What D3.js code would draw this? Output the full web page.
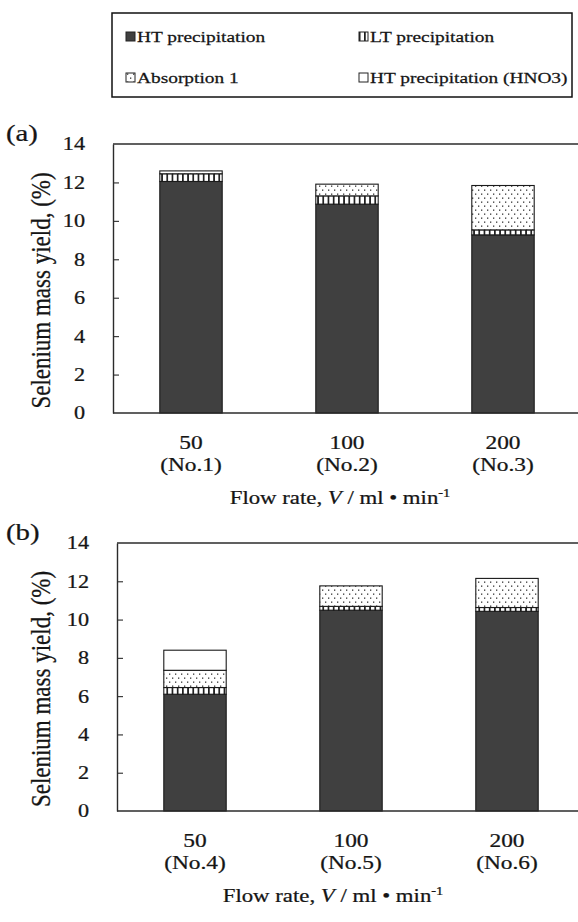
<!DOCTYPE html>
<html>
<head>
<meta charset="utf-8">
<script src="https://cdn.jsdelivr.net/npm/d3@7"></script>
<style>
  html, body { margin: 0; padding: 0; background: #fff; }
  svg { display: block; }
  text { font-family: "Liberation Serif", "Times New Roman", serif; fill: #151515; stroke: #151515; stroke-width: 0.25px; }
</style>
</head>
<body>
<svg id="chart" width="578" height="922"></svg>
<script>
// Flow rates and run numbers for the two experiment sets
const flowRates = ["50", "100", "200"];
const runsA = ["(No.1)", "(No.2)", "(No.3)"];
const runsB = ["(No.4)", "(No.5)", "(No.6)"];

// Selenium mass yield (%) per fraction, set (a)
const htA   = [12.05, 10.87, 9.27];
const ltA   = [0.40, 0.43, 0.26];
const absA  = [0.15, 0.61, 2.31];
const hno3A = [0, 0, 0];

// Selenium mass yield (%) per fraction, set (b)
const htB   = [6.10, 10.49, 10.43];
const ltB   = [0.35, 0.20, 0.20];
const absB  = [0.90, 1.07, 1.52];
const hno3B = [1.05, 0, 0];

const yTicks = [0, 2, 4, 6, 8, 10, 12, 14];
const seriesNames = ["HT precipitation", "LT precipitation", "Absorption 1", "HT precipitation (HNO3)"];
const seriesKeys = ["ht", "lt", "abs", "hno3"];

const SX = 1.2;           // horizontal text widening
const INK = "#2b2b2b";
const DARK = "#404040";

const svg = d3.select("#chart");
svg.append("rect").attr("width", 578).attr("height", 922).attr("fill", "#fff");

// Fill patterns
const defs = svg.append("defs");
const stripes = defs.append("pattern").attr("id", "pat-lt")
  .attr("patternUnits", "userSpaceOnUse").attr("width", 5.2).attr("height", 10);
stripes.append("rect").attr("width", 5.2).attr("height", 10).attr("fill", "#fff");
stripes.append("rect").attr("x", 0).attr("width", 1.7).attr("height", 10).attr("fill", "#1f1f1f");

const dots = defs.append("pattern").attr("id", "pat-abs")
  .attr("patternUnits", "userSpaceOnUse").attr("width", 6).attr("height", 8);
dots.append("rect").attr("width", 6).attr("height", 8).attr("fill", "#fff");
dots.append("rect").attr("x", 1).attr("y", 1.5).attr("width", 1.3).attr("height", 1.3).attr("fill", "#333");
dots.append("rect").attr("x", 4).attr("y", 5.5).attr("width", 1.3).attr("height", 1.3).attr("fill", "#333");

const fills = { ht: DARK, lt: "url(#pat-lt)", abs: "url(#pat-abs)", hno3: "#fff" };

function stretchedText(g, x, y, str, size, anchor, sx) {
  return g.append("text")
    .attr("transform", `translate(${x},${y}) scale(${sx || SX},1)`)
    .attr("font-size", size)
    .attr("text-anchor", anchor || "start")
    .text(str);
}

// Legend
const legend = svg.append("g");
legend.append("rect").attr("x", 112).attr("y", 13).attr("width", 460).attr("height", 84)
  .attr("fill", "#fff").attr("stroke", "#111").attr("stroke-width", 1.5);
const legendPos = [[126, 42], [359, 42], [126, 83], [359, 83]];
seriesKeys.forEach((k, i) => {
  const [lx, ly] = legendPos[i];
  legend.append("rect").attr("x", lx).attr("y", ly - 10).attr("width", 9).attr("height", 9)
    .attr("fill", fills[k]).attr("stroke", "#222").attr("stroke-width", 1);
  stretchedText(legend, lx + 11, ly, seriesNames[i], 15.5, "start", 1.25);
});

function panel(opts) {
  const { left, top, bottom, ht, lt, abs, hno3, runs, tag } = opts;
  const right = left + 468;
  const g = svg.append("g");

  const x = d3.scaleBand().domain(flowRates).range([left, right]).padding(0);
  const y = d3.scaleLinear().domain([0, 14]).range([bottom, top]);

  const rows = flowRates.map((f, i) => ({ flow: f, ht: ht[i], lt: lt[i], abs: abs[i], hno3: hno3[i] }));
  const stacked = d3.stack().keys(seriesKeys)(rows);
  const barW = x.bandwidth() * 0.4;

  stacked.forEach(layer => {
    g.append("g").selectAll("rect").data(layer.filter(d => d[1] - d[0] > 0)).join("rect")
      .attr("x", d => x(d.data.flow) + (x.bandwidth() - barW) / 2)
      .attr("y", d => y(d[1]))
      .attr("width", barW)
      .attr("height", d => y(d[0]) - y(d[1]))
      .attr("fill", fills[layer.key])
      .attr("stroke", "#1a1a1a")
      .attr("stroke-width", 1.1);
  });

  // Frame: top and bottom rules across the plot area
  g.append("line").attr("x1", left).attr("x2", right).attr("y1", y(14)).attr("y2", y(14))
    .attr("stroke", INK).attr("stroke-width", 1.4);
  g.append("line").attr("x1", left).attr("x2", right).attr("y1", y(0)).attr("y2", y(0))
    .attr("stroke", INK).attr("stroke-width", 1.4);

  // Y axis with inward ticks
  const ax = g.append("g").attr("transform", `translate(${left},0)`)
    .call(d3.axisLeft(y).tickValues(yTicks).tickSizeInner(-6).tickSizeOuter(0).tickPadding(28));
  ax.select(".domain").attr("stroke", INK).attr("stroke-width", 1.4);
  ax.selectAll(".tick line").attr("stroke", INK).attr("stroke-width", 1.1)
    .attr("display", d => (d === 0 || d === 14) ? "none" : null);
  ax.selectAll(".tick text")
    .attr("font-size", 18.5)
    .attr("transform", `translate(-28,0) scale(${SX},1)`).attr("x", 0);

  // Category labels
  flowRates.forEach((f, i) => {
    const cx = x(f) + x.bandwidth() / 2;
    stretchedText(g, cx, bottom + 36, f, 19.5, "middle");
    stretchedText(g, cx, bottom + 58, runs[i], 19.5, "middle");
  });

  // X title
  const xt = g.append("text")
    .attr("transform", `translate(${opts.titleX},${bottom + 91}) scale(${SX},1)`)
    .attr("font-size", 19).attr("text-anchor", "middle");
  xt.append("tspan").text("Flow rate, ");
  xt.append("tspan").attr("font-style", "italic").text("V");
  xt.append("tspan").text(" / ml \u2022  min");
  xt.append("tspan").attr("font-size", 12).attr("dy", -7).text("-1");

  // Y title
  g.append("text")
    .attr("transform", `translate(50,${(top + bottom) / 2 + 12}) rotate(-90) scale(1,${SX})`)
    .attr("font-size", 23).attr("text-anchor", "middle")
    .text("Selenium mass yield, (%)");

  // Panel tag
  stretchedText(g, 6, top - 3, tag, 24);
}

panel({ left: 113, top: 144, bottom: 413, ht: htA, lt: ltA, abs: absA, hno3: hno3A, runs: runsA, tag: "(a)", titleX: 340 });
panel({ left: 117, top: 543, bottom: 811, ht: htB, lt: ltB, abs: absB, hno3: hno3B, runs: runsB, tag: "(b)", titleX: 333 });
</script>
</body>
</html>
